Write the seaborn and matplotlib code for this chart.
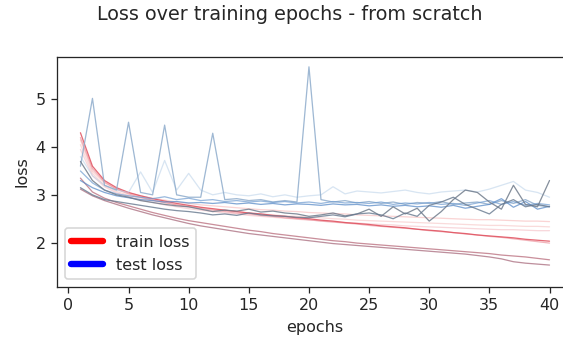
import matplotlib
matplotlib.use("Agg")
import matplotlib.pyplot as plt
from matplotlib.lines import Line2D
import seaborn as sns

sns.set_style("ticks")
plt.rcParams["font.family"] = ["DejaVu Sans"]

epochs = list(range(1, 41))

# training loss of each run
train_main = [4.30, 3.60, 3.30, 3.15, 3.05, 2.98, 2.92, 2.87, 2.82, 2.78,
              2.74, 2.71, 2.68, 2.65, 2.62, 2.60, 2.57, 2.55, 2.52, 2.50,
              2.47, 2.45, 2.42, 2.40, 2.38, 2.35, 2.33, 2.31, 2.28, 2.26,
              2.24, 2.21, 2.19, 2.16, 2.14, 2.12, 2.10, 2.07, 2.05, 2.03]
train_b = [4.20, 3.55, 3.27, 3.12, 3.02, 2.95, 2.89, 2.84, 2.79, 2.75,
           2.71, 2.68, 2.65, 2.62, 2.60, 2.57, 2.55, 2.52, 2.50, 2.48,
           2.45, 2.43, 2.41, 2.39, 2.36, 2.34, 2.32, 2.30, 2.28, 2.25,
           2.23, 2.21, 2.18, 2.16, 2.13, 2.11, 2.08, 2.05, 2.02, 1.99]
train_c = [4.15, 3.50, 3.25, 3.12, 3.04, 2.98, 2.93, 2.89, 2.85, 2.82,
           2.79, 2.77, 2.75, 2.73, 2.71, 2.69, 2.68, 2.66, 2.65, 2.63,
           2.62, 2.61, 2.60, 2.58, 2.57, 2.56, 2.55, 2.54, 2.53, 2.52,
           2.51, 2.50, 2.49, 2.48, 2.48, 2.47, 2.46, 2.45, 2.45, 2.44]
train_d = [4.05, 3.45, 3.20, 3.07, 2.99, 2.93, 2.88, 2.83, 2.79, 2.76,
           2.73, 2.70, 2.67, 2.65, 2.62, 2.60, 2.58, 2.56, 2.55, 2.53,
           2.52, 2.50, 2.49, 2.47, 2.46, 2.45, 2.44, 2.43, 2.42, 2.41,
           2.40, 2.39, 2.38, 2.37, 2.36, 2.36, 2.35, 2.34, 2.34, 2.33]
train_e = [3.95, 3.40, 3.17, 3.04, 2.96, 2.89, 2.84, 2.79, 2.75, 2.71,
           2.68, 2.65, 2.62, 2.60, 2.57, 2.55, 2.53, 2.51, 2.49, 2.47,
           2.46, 2.44, 2.42, 2.41, 2.39, 2.38, 2.37, 2.35, 2.34, 2.33,
           2.32, 2.31, 2.30, 2.29, 2.28, 2.27, 2.27, 2.26, 2.25, 2.25]
train_f = [3.35, 3.06, 2.93, 2.84, 2.77, 2.70, 2.63, 2.57, 2.51, 2.46,
           2.42, 2.38, 2.34, 2.30, 2.26, 2.23, 2.19, 2.16, 2.13, 2.10,
           2.07, 2.04, 2.02, 1.99, 1.97, 1.95, 1.93, 1.91, 1.89, 1.87,
           1.85, 1.83, 1.81, 1.79, 1.77, 1.74, 1.72, 1.70, 1.67, 1.64]
train_g = [3.12, 2.98, 2.88, 2.80, 2.72, 2.65, 2.58, 2.52, 2.46, 2.40,
           2.35, 2.31, 2.27, 2.23, 2.19, 2.16, 2.13, 2.10, 2.07, 2.04,
           2.01, 1.98, 1.96, 1.94, 1.92, 1.90, 1.88, 1.86, 1.84, 1.82,
           1.80, 1.78, 1.76, 1.73, 1.70, 1.66, 1.60, 1.57, 1.55, 1.53]

# test loss of each run
test_a = [3.60, 5.02, 3.20, 3.10, 4.52, 3.05, 3.00, 4.46, 3.00, 2.95,
          2.95, 4.29, 2.90, 2.92, 2.88, 2.90, 2.85, 2.88, 2.85, 5.68,
          2.90, 2.85, 2.88, 2.83, 2.86, 2.82, 2.85, 2.80, 2.84, 2.82,
          2.86, 2.80, 2.83, 2.85, 2.80, 2.88, 2.82, 2.90, 2.78, 2.75]
test_b = [3.80, 3.40, 3.20, 3.10, 3.05, 3.48, 3.05, 3.72, 3.10, 3.45,
          3.10, 3.00, 3.05, 3.00, 2.98, 3.02, 2.96, 3.00, 2.95, 2.98,
          3.00, 3.17, 3.02, 3.08, 3.06, 3.04, 3.07, 3.10, 3.05, 3.02,
          3.06, 3.08, 3.10, 3.06, 3.12, 3.20, 3.28, 3.10, 3.05, 2.95]
test_c = [3.50, 3.25, 3.10, 3.02, 2.98, 2.95, 2.92, 2.96, 2.90, 2.93,
          2.88, 2.90, 2.86, 2.88, 2.85, 2.87, 2.84, 2.86, 2.83, 2.85,
          2.82, 2.86, 2.83, 2.84, 2.82, 2.85, 2.80, 2.83, 2.81, 2.84,
          2.80, 2.82, 2.78, 2.83, 2.88, 2.80, 2.86, 2.78, 2.82, 2.79]
test_d = [3.30, 3.15, 3.05, 2.98, 2.94, 2.90, 2.88, 2.85, 2.86, 2.83,
          2.84, 2.82, 2.84, 2.81, 2.83, 2.80, 2.82, 2.79, 2.81, 2.80,
          2.78, 2.81, 2.79, 2.80, 2.77, 2.79, 2.76, 2.78, 2.75, 2.77,
          2.74, 2.78, 2.72, 2.76, 2.80, 2.92, 2.74, 2.86, 2.70, 2.76]
test_e = [3.70, 3.30, 3.10, 3.00, 2.95, 2.88, 2.84, 2.80, 2.77, 2.75,
          2.70, 2.65, 2.68, 2.66, 2.70, 2.64, 2.66, 2.62, 2.60, 2.55,
          2.58, 2.62, 2.56, 2.60, 2.70, 2.55, 2.75, 2.60, 2.72, 2.45,
          2.65, 2.90, 3.10, 3.05, 2.85, 2.70, 3.20, 2.80, 2.75, 3.30]
test_f = [3.15, 3.00, 2.90, 2.86, 2.82, 2.78, 2.74, 2.70, 2.67, 2.65,
          2.62, 2.58, 2.60, 2.57, 2.62, 2.58, 2.56, 2.55, 2.53, 2.52,
          2.55, 2.58, 2.54, 2.60, 2.62, 2.58, 2.50, 2.62, 2.55, 2.78,
          2.85, 2.95, 2.80, 2.70, 2.60, 2.80, 2.90, 2.75, 2.80, 2.75]

train_runs = [
    (train_c, "#f4a0a0", 0.45),
    (train_d, "#f2a6a6", 0.40),
    (train_e, "#f0a8b0", 0.45),
    (train_b, "#e87a86", 0.55),
    (train_main, "#e0505e", 0.85),
    (train_f, "#b86a7a", 0.75),
    (train_g, "#a86a7c", 0.75),
]
test_runs = [
    (test_b, "#b8d0e8", 0.55),
    (test_a, "#8eaccc", 0.85),
    (test_c, "#6f9cd0", 0.70),
    (test_d, "#5b8cc8", 0.75),
    (test_e, "#707c8c", 0.85),
    (test_f, "#66788e", 0.80),
]

fig = plt.figure(figsize=(563 / 115, 345 / 115), dpi=115)
ax = fig.add_axes([0.1012, 0.168, 0.9165, 0.6667])

for vals, col, a in train_runs + test_runs:
    sns.lineplot(x=epochs, y=vals, color=col, alpha=a, lw=0.8, ax=ax,
                 legend=False)

ax.set_xlim(-0.95, 41.95)
ax.set_ylim(1.07, 5.885)
ax.set_xticks([0, 5, 10, 15, 20, 25, 30, 35, 40])
ax.set_yticks([2, 3, 4, 5])
ax.set_xlabel("epochs")
ax.set_ylabel("loss")

handles = [Line2D([0], [0], color="red", lw=4),
           Line2D([0], [0], color="blue", lw=4)]
ax.legend(handles, ["train loss", "test loss"], loc="lower left")

fig.suptitle("Loss over training epochs - from scratch", x=290 / 563,
             y=1 - 14 / 345, va="center", fontsize=12)

fig.savefig("out.png", dpi=115)
